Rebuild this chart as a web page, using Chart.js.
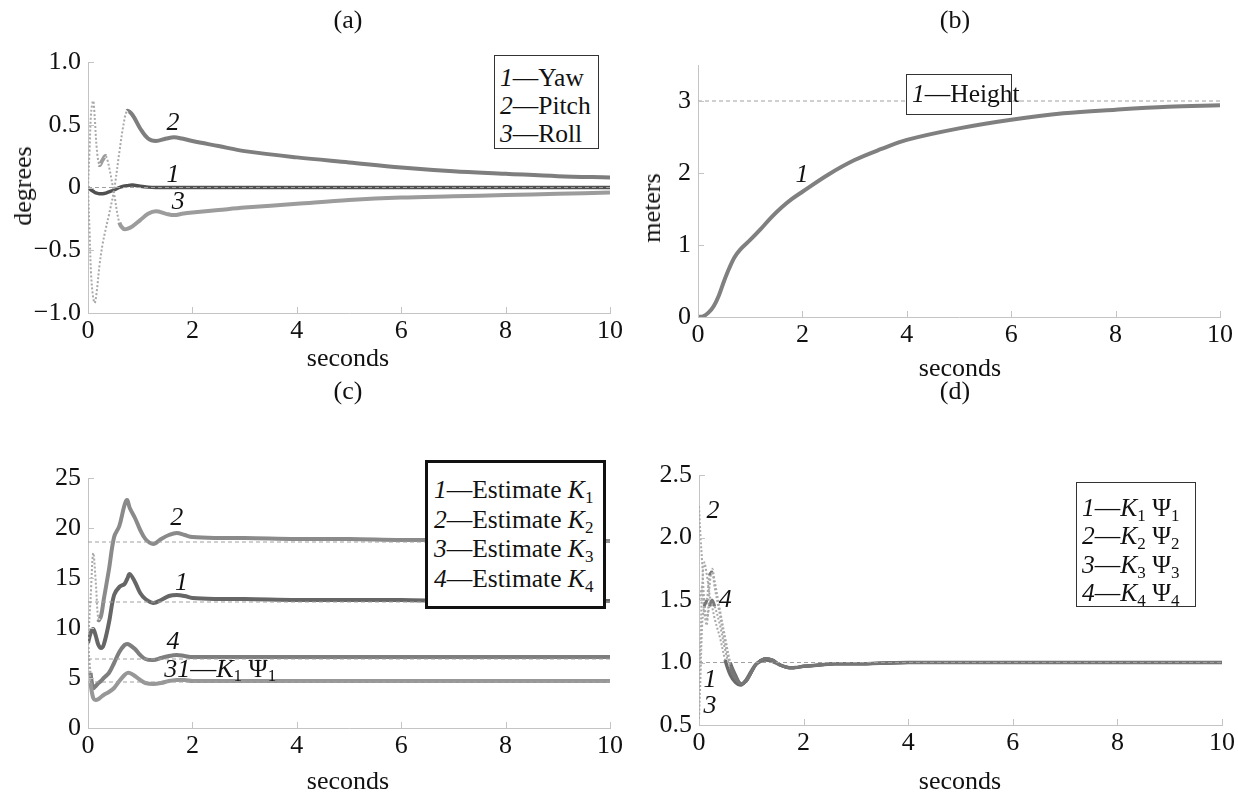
<!DOCTYPE html>
<html><head><meta charset="utf-8">
<script src="https://cdn.jsdelivr.net/npm/chart.js@4.4.1/dist/chart.umd.min.js"></script>
<style>
body{margin:0;background:#fff;width:1238px;height:794px;position:relative;overflow:hidden;font-family:"Liberation Serif","Times New Roman",serif;color:#111}
canvas{position:absolute;left:0;top:0}
.t{position:absolute;font-size:26px;transform:translate(-50%,-50%);white-space:nowrap;line-height:1}
.rot{transform:translate(-50%,-50%) rotate(-90deg)}
.lg{position:absolute;box-sizing:border-box;border:1.5px solid #333;font-size:25.5px;white-space:nowrap;background:#fff}
.lg i{font-style:italic}
.lg sub{font-size:17px;vertical-align:-5px;line-height:0}
</style></head>
<body>
<canvas id="ca" width="1238" height="794"></canvas>
<canvas id="cb" width="1238" height="794"></canvas>
<canvas id="cc" width="1238" height="794"></canvas>
<canvas id="cd" width="1238" height="794"></canvas>

<div class="t" style="left:348px;top:20px">(a)</div>
<div class="t" style="left:955px;top:20px">(b)</div>
<div class="t" style="left:348px;top:391px">(c)</div>
<div class="t" style="left:955px;top:391px">(d)</div>
<div class="t rot" style="left:23px;top:186px">degrees</div>
<div class="t rot" style="left:652px;top:208px">meters</div>
<div class="t" style="left:348px;top:358px">seconds</div>
<div class="t" style="left:960px;top:368px">seconds</div>
<div class="t" style="left:348px;top:781px">seconds</div>
<div class="t" style="left:960px;top:781px">seconds</div>

<div class="lg" style="left:494px;top:55px;width:105px;height:94px;padding:8px 0 0 5px;line-height:28px">
<div><i>1</i>—Yaw</div><div><i>2</i>—Pitch</div><div><i>3</i>—Roll</div></div>
<div class="lg" style="left:906px;top:74px;width:106px;height:41px;padding:5px 0 0 5px;line-height:28px">
<div><i>1</i>—Height</div></div>
<div class="lg" style="left:425px;top:460px;width:181px;height:149px;border:3px solid #111;padding:12px 0 0 6px;line-height:29.5px">
<div><i>1</i>—Estimate <i>K</i><sub>1</sub></div><div><i>2</i>—Estimate <i>K</i><sub>2</sub></div><div><i>3</i>—Estimate <i>K</i><sub>3</sub></div><div><i>4</i>—Estimate <i>K</i><sub>4</sub></div></div>
<div class="lg" style="left:1076px;top:482px;width:120px;height:125px;padding:11px 0 0 5px;line-height:28.3px">
<div><i>1</i>—<i>K</i><sub>1</sub> Ψ<sub>1</sub></div><div><i>2</i>—<i>K</i><sub>2</sub> Ψ<sub>2</sub></div><div><i>3</i>—<i>K</i><sub>3</sub> Ψ<sub>3</sub></div><div><i>4</i>—<i>K</i><sub>4</sub> Ψ<sub>4</sub></div></div>

<script>
// ---------- Panel (a): attitude angles, degrees ----------
const timeA  = [0,0.03,0.06,0.1,0.13,0.17,0.22,0.28,0.34,0.4,0.5,0.6,0.68,0.75,0.85,1.0,1.15,1.3,1.5,1.65,1.8,2,2.5,3,4,5,6,7,8,9,10];
const yawA   = [0,-0.01,-0.02,-0.03,-0.04,-0.045,-0.05,-0.05,-0.045,-0.035,-0.02,0,0.01,0.015,0.02,0.01,0.003,0,0,0,0,0,0,0,0,0,0,0,0,0,0];
const pitchA = [0,-0.35,-0.7,-0.88,-0.92,-0.82,-0.62,-0.45,-0.33,-0.22,-0.02,0.28,0.5,0.61,0.58,0.47,0.39,0.37,0.39,0.40,0.39,0.37,0.33,0.29,0.24,0.20,0.16,0.13,0.11,0.09,0.08];
const rollA  = [0,0.3,0.6,0.69,0.55,0.3,0.18,0.22,0.25,0.17,-0.05,-0.28,-0.33,-0.33,-0.31,-0.26,-0.21,-0.19,-0.21,-0.22,-0.21,-0.2,-0.18,-0.16,-0.13,-0.1,-0.08,-0.07,-0.06,-0.05,-0.04];
const refA   = [0];

// ---------- Panel (b): height, meters ----------
const timeB   = [0,0.1,0.2,0.3,0.4,0.5,0.6,0.7,0.8,1.0,1.2,1.4,1.6,1.8,2,2.5,3,3.5,4,5,6,7,8,9,10];
const heightB = [0,0.01,0.06,0.15,0.3,0.5,0.68,0.83,0.93,1.07,1.22,1.38,1.52,1.64,1.74,1.98,2.18,2.33,2.46,2.62,2.74,2.83,2.88,2.92,2.94];
const refB    = [3];

// ---------- Panel (c): gain estimates ----------
const timeC = [0,0.05,0.1,0.15,0.2,0.25,0.3,0.4,0.5,0.6,0.7,0.75,0.8,0.9,1.0,1.1,1.25,1.4,1.55,1.7,1.85,2,2.5,3,4,5,6,7,8,9,10];
const k1C = [8.5,9.5,9.9,9.2,8.3,8.0,8.3,10.5,13.3,14.1,14.4,14.9,15.4,14.6,13.5,12.9,12.5,12.8,13.2,13.3,13.2,13.0,12.9,12.9,12.8,12.8,12.8,12.7,12.7,12.7,12.7];
const k2C = [8.5,13,17.5,14.5,10.8,11.2,12.8,15.8,19.1,20.2,22.3,22.8,22.0,21.0,19.8,18.9,18.4,18.9,19.3,19.5,19.3,19.1,19.0,19.0,18.9,18.9,18.8,18.8,18.8,18.7,18.7];
const k3C = [8.5,4.5,3.0,2.8,2.9,3.1,3.3,3.6,4.0,4.7,5.3,5.5,5.5,5.2,4.8,4.5,4.4,4.5,4.7,4.8,4.8,4.7,4.7,4.7,4.7,4.7,4.7,4.7,4.7,4.7,4.7];
const k4C = [8.5,5.5,4.0,4.2,4.5,4.7,5.0,5.5,6.5,7.6,8.3,8.4,8.3,7.9,7.3,6.9,6.8,7.0,7.2,7.3,7.2,7.1,7.1,7.1,7.1,7.1,7.1,7.1,7.1,7.1,7.1];
const refC = [18.6,12.6,6.9,4.6];

// ---------- Panel (d): K·Ψ products ----------
const timeD = [0,0.03,0.06,0.1,0.15,0.2,0.25,0.3,0.4,0.5,0.6,0.7,0.8,0.9,1.0,1.1,1.25,1.4,1.55,1.7,1.85,2,2.3,2.6,3,4,5,6,7,8,9,10];
const p1D = [0.8,1.2,1.6,1.8,1.7,1.55,1.45,1.35,1.2,1.02,0.9,0.84,0.82,0.86,0.93,0.99,1.02,1.01,0.98,0.96,0.96,0.97,0.98,0.99,0.99,1,1,1,1,1,1,1];
const p2D = [2.25,2.0,1.8,1.5,1.35,1.45,1.5,1.45,1.3,1.1,0.95,0.87,0.83,0.85,0.92,0.99,1.03,1.02,0.98,0.96,0.96,0.97,0.98,0.99,0.99,1,1,1,1,1,1,1];
const p3D = [0.55,0.9,1.3,1.45,1.5,1.7,1.72,1.6,1.38,1.15,0.97,0.88,0.83,0.85,0.92,0.99,1.03,1.02,0.98,0.96,0.96,0.97,0.98,0.99,0.99,1,1,1,1,1,1,1];
const p4D = [1.5,1.55,1.6,1.4,1.3,1.6,1.75,1.65,1.42,1.2,1.0,0.9,0.83,0.85,0.92,0.99,1.03,1.02,0.98,0.96,0.96,0.97,0.98,0.99,0.99,1,1,1,1,1,1,1];
const refD = [1.0];

// shared x ticks
const xTickStep = 2;

const FONT = '"Liberation Serif","Times New Roman",serif';
const YW = 60, XH = 40;

function pts(t, v){ return t.map((x,i)=>({x:x, y:v[i]})); }
// steep segments were plotted with sparse markers in the original: draw them thin, light and dotted
function steep(c, lim){ const dx = Math.abs(c.p1.x - c.p0.x) || 0.01; return Math.abs(c.p1.y - c.p0.y)/dx > lim; }
function curve(t, v, color, w, lim){
  const L = lim || 3.2;
  return {data:pts(t,v), borderColor:color, borderWidth:w, pointRadius:0, tension:0.35, fill:false,
    segment:{
      borderColor: c => steep(c, L) ? '#a9a9a9' : undefined,
      borderWidth: c => steep(c, L) ? 2 : undefined,
      borderDash: c => steep(c, L) ? [2,2] : undefined
    }};
}
function refLine(v){
  return {data:[{x:0,y:v},{x:10,y:v}], borderColor:'#a0a0a0', borderWidth:1, borderDash:[4,3], pointRadius:0, fill:false};
}

const insideTicks = {
  id:'insideTicks',
  afterDraw(chart){
    const ctx = chart.ctx, a = chart.chartArea;
    ctx.save(); ctx.strokeStyle = '#c4c4c4'; ctx.lineWidth = 1;
    chart.scales.x.ticks.forEach(tk=>{
      const px = Math.round(chart.scales.x.getPixelForValue(tk.value))+0.5;
      ctx.beginPath(); ctx.moveTo(px, a.bottom); ctx.lineTo(px, a.bottom-6); ctx.stroke();
    });
    chart.scales.y.ticks.forEach(tk=>{
      const py = Math.round(chart.scales.y.getPixelForValue(tk.value))+0.5;
      ctx.beginPath(); ctx.moveTo(a.left, py); ctx.lineTo(a.left+6, py); ctx.stroke();
    });
    ctx.restore();
  }
};

const annots = {
  id:'annots',
  afterDatasetsDraw(chart, args, opts){
    const ctx = chart.ctx;
    (opts.items||[]).forEach(it=>{
      let px = chart.scales.x.getPixelForValue(it.x);
      const py = chart.scales.y.getPixelForValue(it.y);
      ctx.save(); ctx.fillStyle = '#111'; ctx.textBaseline = 'middle';
      if (it.parts){
        ctx.textAlign = 'left';
        it.parts.forEach(p=>{
          const size = p.sub ? 17 : 26;
          ctx.font = (p.i ? 'italic ' : '') + size + 'px ' + FONT;
          ctx.fillText(p.t, px, py + (p.sub ? 7 : 0));
          px += ctx.measureText(p.t).width;
        });
      } else {
        ctx.textAlign = 'center';
        ctx.font = 'italic 26px ' + FONT;
        ctx.fillText(it.text, px, py);
      }
      ctx.restore();
    });
  }
};

function fmt(dec){
  return v => {
    if (Math.abs(v) < 1e-9) return '0';
    const s = dec ? Math.abs(v).toFixed(dec) : String(Math.abs(v));
    return (v < 0 ? '\u2212' : '') + s;
  };
}

function make(id, area, y, datasets, items){
  return new Chart(document.getElementById(id), {
    type:'line',
    data:{datasets},
    plugins:[insideTicks, annots],
    options:{
      responsive:false, animation:false, events:[],
      layout:{padding:{left:area.l-YW, top:area.t, right:1238-area.r, bottom:794-area.b-XH}},
      plugins:{legend:{display:false}, tooltip:{enabled:false}, annots:{items}},
      scales:{
        x:{type:'linear', min:0, max:10,
           ticks:{stepSize:xTickStep, color:'#111', font:{family:FONT, size:26}, padding:3, maxRotation:0, autoSkip:false},
           grid:{display:true, drawOnChartArea:false, drawTicks:false},
           border:{color:'#c4c4c4', width:1},
           afterFit(s){ s.height = XH; }},
        y:{type:'linear', min:y.min, max:y.max,
           ticks:{stepSize:y.step, color:'#111', font:{family:FONT, size:26}, padding:7, callback:fmt(y.dec), autoSkip:false},
           afterBuildTicks(s){ s.ticks = s.ticks.filter(t=>y.keep(t.value)); },
           grid:{display:true, drawOnChartArea:false, drawTicks:false},
           border:{color:'#c4c4c4', width:1},
           afterFit(s){ s.width = YW; }}
      }
    }
  });
}

const all = ()=>true;

make('ca', {l:88,t:62,r:610,b:313},
  {min:-1, max:1, step:0.5, dec:1, keep:all},
  [refLine(refA[0]),
   curve(timeA, rollA, '#9c9c9c', 4),
   curve(timeA, pitchA, '#7e7e7e', 4),
   curve(timeA, yawA, '#505050', 3.5)],
  [{x:1.63,y:0.51,text:'2'},{x:1.63,y:0.1,text:'1'},{x:1.73,y:-0.12,text:'3'}]);

make('cb', {l:698,t:65,r:1220,b:317},
  {min:0, max:3.5, step:1, dec:0, keep:v=>Number.isInteger(v)},
  [refLine(refB[0]), curve(timeB, heightB, '#808080', 4, 99)],
  [{x:1.99,y:1.97,text:'1'}]);

make('cc', {l:88,t:478,r:610,b:728},
  {min:0, max:25, step:5, dec:0, keep:all},
  [...refC.map(refLine),
   curve(timeC, k3C, '#979797', 4, 7),
   curve(timeC, k4C, '#7e7e7e', 4, 7),
   curve(timeC, k2C, '#8a8a8a', 4, 7),
   curve(timeC, k1C, '#666666', 4, 7)],
  [{x:1.70,y:21.0,text:'2'},{x:1.79,y:14.5,text:'1'},{x:1.63,y:8.6,text:'4'},
   {x:1.46,y:5.8,parts:[{t:'3',i:true},{t:'1',i:true},{t:'\u2014'},{t:'K',i:true},{t:'1',sub:true},{t:' \u03A8'},{t:'1',sub:true}]}]);

make('cd', {l:699,t:475,r:1224,b:725},
  {min:0.5, max:2.5, step:0.5, dec:1, keep:all},
  [refLine(refD[0]),
   curve(timeD, p3D, '#777777', 3),
   curve(timeD, p4D, '#6e6e6e', 3),
   curve(timeD, p2D, '#7a7a7a', 3),
   curve(timeD, p1D, '#6a6a6a', 3.5)],
  [{x:0.27,y:2.21,text:'2'},{x:0.5,y:1.5,text:'4'},{x:0.21,y:0.86,text:'1'},{x:0.21,y:0.65,text:'3'}]);
</script>
</body></html>
